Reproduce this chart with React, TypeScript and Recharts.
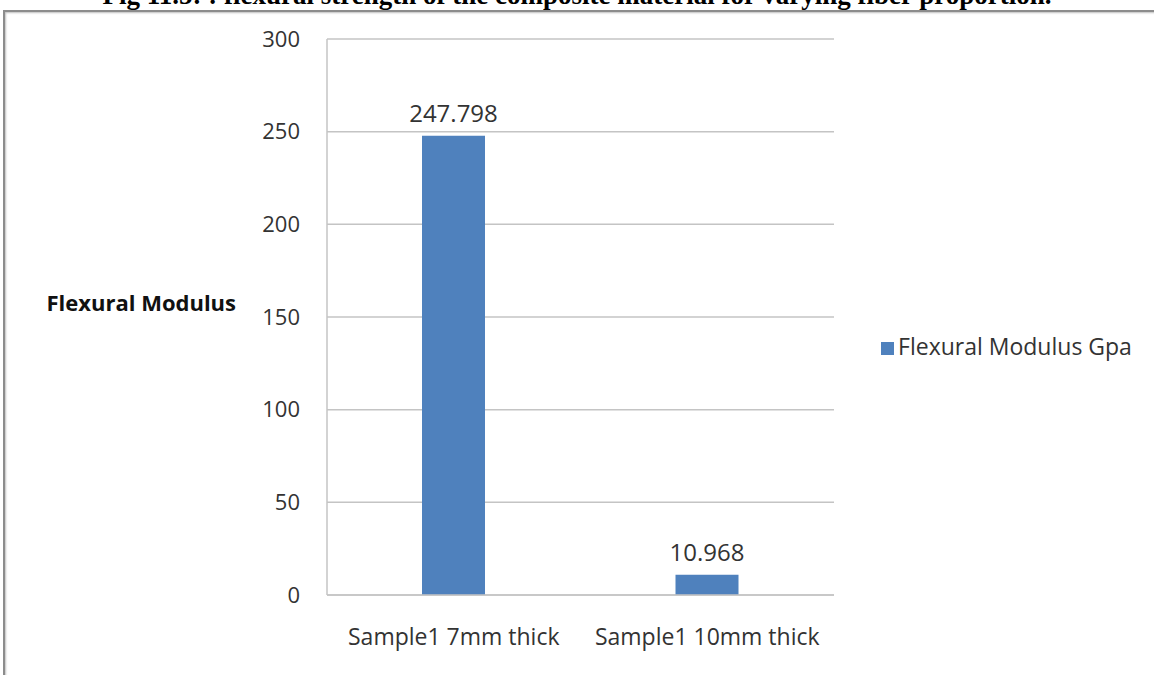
import { BarChart, Bar, XAxis, YAxis, CartesianGrid, Legend, LabelList } from 'recharts';

const categories = ['Sample1 7mm thick', 'Sample1 10mm thick'];
const modulusGpa = [247.798, 10.968];
const yTicks = [0, 50, 100, 150, 200, 250, 300];

const seriesName = 'Flexural Modulus Gpa';
const data = categories.map((name, i) => ({ name, value: modulusGpa[i] }));

const FONT = '"Open Sans", Lato, sans-serif';
const BLUE = '#4f81bd';
const GRID = '#c4c4c4';

export default function App() {
  return (
    <div
      style={{
        position: 'absolute',
        left: 0,
        top: 0,
        width: 1154,
        height: 675,
        overflow: 'hidden',
        background: '#fff',
      }}
    >
      {/* caption sits above the frame, only its lower half shows */}
      <div
        style={{
          position: 'absolute',
          left: 0,
          top: -20,
          width: 1154,
          textAlign: 'center',
          fontFamily: '"Liberation Serif", "Times New Roman", serif',
          fontWeight: 'bold',
          fontSize: 27,
          whiteSpace: 'nowrap',
        }}
      >
        Fig 11.5: : flexural strength of the composite material for varying fiber proportion.
      </div>
      <div
        style={{
          position: 'absolute',
          left: 3,
          top: 10,
          width: 1160,
          height: 700,
          borderTop: '2px solid #8c8c8c',
          borderLeft: '2px solid #8c8c8c',
          boxShadow: 'inset 1px 1px 2px rgba(0,0,0,0.25)',
        }}
      />
      <div style={{ position: 'absolute', left: 0, top: 0 }}>
        <BarChart
          width={1154}
          height={675}
          data={data}
          margin={{ top: 39, right: 320, bottom: 0, left: 267 }}
        >
          <CartesianGrid vertical={false} stroke={GRID} strokeWidth={1.5} />
          <XAxis
            dataKey="name"
            interval={0}
            axisLine={{ stroke: GRID, strokeWidth: 1.5 }}
            tickLine={false}
            tickSize={0}
            tickMargin={34}
            tick={{ fill: '#333', fontSize: 23, fontFamily: FONT }}
            height={80}
          />
          <YAxis
            domain={[0, 300]}
            ticks={yTicks}
            width={60}
            axisLine={{ stroke: GRID, strokeWidth: 1.5 }}
            tickLine={false}
            tickSize={0}
            tickMargin={27}
            tick={{ fill: '#333', fontSize: 22, fontFamily: FONT }}
            label={{
              value: 'Flexural Modulus',
              position: 'left',
              offset: 31,
              dy: -14,
              fill: '#111',
              fontSize: 22,
              fontWeight: 'bold',
              fontFamily: FONT,
            }}
          />
          {/* centred + middle keeps the legend from shrinking the plot; wrapperStyle places it */}
          <Legend
            layout="horizontal"
            align="center"
            verticalAlign="middle"
            iconType="square"
            iconSize={13}
            wrapperStyle={{ left: 869, top: 330, width: 285, textAlign: 'left', fontFamily: FONT, fontSize: 23 }}
            formatter={(v: string) => <span style={{ color: '#333' }}>{v}</span>}
          />
          <Bar dataKey="value" name={seriesName} fill={BLUE} barSize={63} isAnimationActive={false}>
            <LabelList
              dataKey="value"
              position="top"
              offset={14}
              fill="#333"
              fontSize={24}
              fontFamily={FONT}
            />
          </Bar>
        </BarChart>
      </div>
    </div>
  );
}
